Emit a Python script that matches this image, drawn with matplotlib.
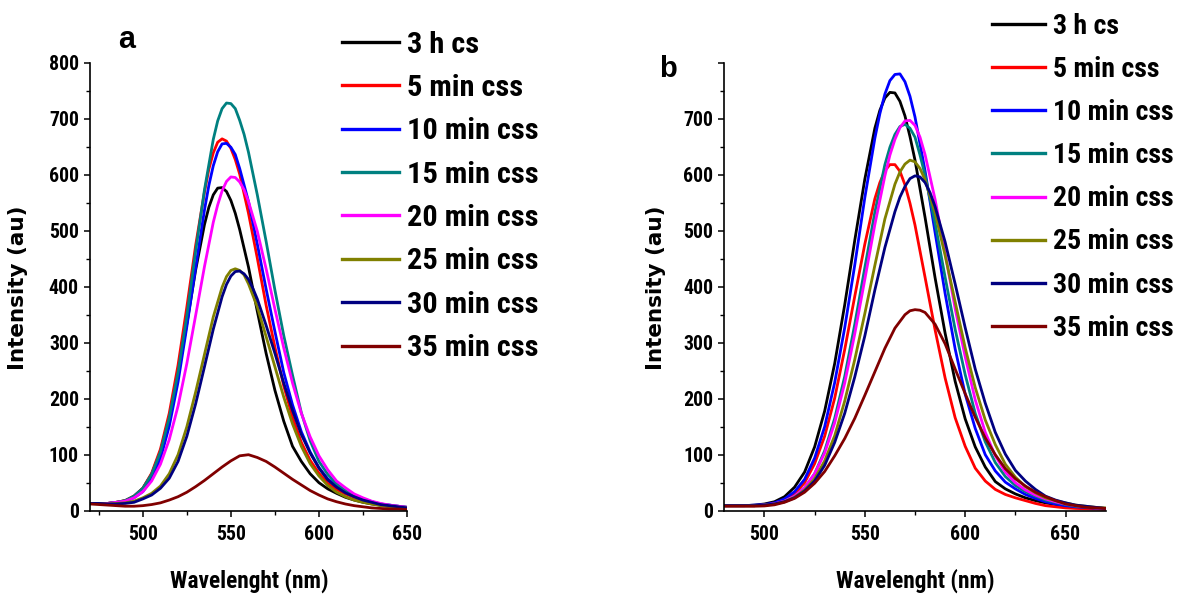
import matplotlib
matplotlib.use('Agg')
import matplotlib.pyplot as plt
from matplotlib import font_manager as fm
from matplotlib.font_manager import FontProperties
from matplotlib.ticker import MultipleLocator, FixedLocator, FixedFormatter
from matplotlib.lines import Line2D

# ---------------- data ----------------
labels = ['3 h cs', '5 min css', '10 min css', '15 min css', '20 min css',
          '25 min css', '30 min css', '35 min css']
colors = ['#000000', '#ff0000', '#0000ff', '#008080', '#ff00ff',
          '#808000', '#000080', '#800000']

# panel a: wavelength grid 470..650 nm (5 nm)
wl_a = list(range(470, 651, 5))
black_a = [13, 13, 13, 15, 18, 26, 40, 65, 106, 166,
           244, 334, 430, 511, 564, 577, 554, 502, 435, 356,
           281, 215, 160, 115, 88, 66, 50, 39, 31, 24,
           19, 15, 12, 10, 8, 7, 6]
red_a = [13, 13, 13, 15, 18, 26, 40, 67, 110, 174,
         260, 364, 474, 569, 639, 664, 647, 601, 531, 451,
         367, 292, 223, 167, 122, 90, 67, 49, 38, 30,
         24, 19, 15, 11, 9, 7, 5]
blue_a = [13, 13, 13, 14, 17, 23, 34, 56, 93, 151,
          230, 329, 434, 537, 616, 655, 649, 611, 552, 476,
          396, 320, 247, 189, 141, 105, 77, 57, 44, 35,
          26, 21, 16, 12, 10, 8, 6]
teal_a = [13, 13, 13, 15, 18, 26, 40, 65, 105, 166,
          247, 348, 464, 573, 663, 718, 727, 697, 640, 564,
          481, 394, 313, 242, 175, 125, 88, 65, 48, 36,
          27, 21, 16, 12, 10, 8, 6]
magenta_a = [13, 13, 13, 15, 17, 23, 34, 53, 83, 127,
             187, 263, 349, 436, 515, 571, 596, 587, 552, 499,
             432, 360, 291, 228, 174, 132, 98, 73, 53, 41,
             30, 23, 17, 13, 10, 8, 6]
olive_a = [13, 13, 12, 13, 14, 17, 23, 31, 44, 66,
           100, 150, 212, 279, 346, 399, 429, 429, 405, 364,
           311, 257, 203, 155, 115, 84, 62, 45, 33, 25,
           19, 15, 12, 9, 7, 6, 5]
navy_a = [13, 13, 12, 12, 13, 15, 21, 28, 40, 58,
          88, 133, 191, 257, 324, 382, 419, 428, 413, 378,
          331, 281, 228, 179, 136, 103, 76, 55, 42, 32,
          25, 19, 15, 11, 9, 7, 5]
darkred_a = [12, 11, 10, 9, 8, 8, 9, 11, 14, 19,
             25, 33, 43, 54, 66, 78, 89, 98, 100, 95,
             88, 78, 67, 56, 46, 36, 28, 21, 16, 12,
             9, 7, 5, 4, 3, 3, 2]

# extra readings around each peak of panel a (wavelength, intensity)
black_a_pk_x = [537.5, 542.5, 547.5, 552.5]
black_a_pk_y = [542, 576, 570, 531]
red_a_pk_x = [537.5, 542.5, 547.5, 552.5]
red_a_pk_y = [610, 658, 660, 627]
blue_a_pk_x = [537.5, 542.5, 547.5, 552.5]
blue_a_pk_y = [581, 641, 656, 636]
teal_a_pk_x = [542.5, 547.5, 552.5, 557.5]
teal_a_pk_y = [696, 728, 718, 672]
magenta_a_pk_x = [542.5, 547.5, 552.5, 557.5]
magenta_a_pk_y = [546, 588, 595, 573]
olive_a_pk_x = [547.5, 552.5, 557.5]
olive_a_pk_y = [418, 432, 421]
navy_a_pk_x = [547.5, 552.5, 557.5, 562.5]
navy_a_pk_y = [404, 427, 423, 397]
darkred_a_pk_x = []
darkred_a_pk_y = []

# panel b: wavelength grid 480..670 nm (5 nm)
wl_b = list(range(480, 671, 5))
black_b = [9, 9, 9, 10, 12, 16, 25, 42, 69, 114,
           178, 263, 368, 483, 592, 683, 737, 746, 705, 626,
           524, 416, 317, 231, 164, 114, 78, 52, 39, 30,
           23, 18, 14, 11, 8, 6, 5, 4, 3]
red_b = [9, 9, 9, 9, 10, 13, 19, 30, 50, 84,
         133, 201, 288, 383, 476, 557, 607, 618, 582, 510,
         417, 323, 237, 166, 115, 76, 53, 38, 29, 23,
         18, 13, 9, 7, 5, 4, 3.5, 3, 2.5]
blue_b = [9, 9, 9, 10, 11, 14, 21, 34, 56, 94,
          150, 229, 327, 439, 559, 665, 744, 779, 766, 703,
          607, 497, 388, 289, 208, 147, 100, 71, 51, 39,
          29, 22, 16, 12, 9, 7, 5.5, 4.5, 3.5]
teal_b = [9, 9, 9, 9, 10, 12, 17, 26, 41, 66,
          107, 165, 240, 333, 434, 533, 618, 672, 690, 667,
          599, 514, 417, 324, 243, 174, 123, 86, 61, 45,
          34, 26, 19, 15, 11, 8, 6.5, 5, 4]
magenta_b = [9, 9, 9, 9, 10, 12.5, 17, 26, 41, 66,
             103, 157, 228, 316, 413, 511, 598, 663, 696, 688,
             636, 556, 460, 361, 275, 198, 140, 98, 69, 50,
             37, 28, 21, 16, 12, 9, 7, 5, 4]
olive_b = [9, 9, 9, 9, 10, 12, 16, 24, 37, 57,
           89, 134, 196, 270, 352, 438, 521, 583, 619, 623,
           591, 532, 456, 373, 291, 220, 162, 118, 83, 60,
           43, 32, 23, 18, 14, 10, 8, 6, 5]
navy_b = [9, 9, 9, 9, 10, 12, 16, 23, 35, 53,
          81, 122, 174, 239, 312, 394, 470, 534, 579, 598,
          586, 543, 480, 405, 327, 253, 192, 140, 101, 72,
          53, 38, 26, 19, 14, 10, 8, 6, 4]
darkred_b = [8, 8, 8, 8, 8.5, 10.5, 15, 22, 33, 49,
             70, 98, 129, 165, 206, 248, 290, 326, 350, 359,
             354, 333, 298, 253, 209, 167, 130, 100, 75, 57,
             44, 33, 25, 18, 12, 9, 6, 5, 4]

# extra readings around each peak of panel b
black_b_pk_x = [557.5, 562.5, 567.5, 572.5]
black_b_pk_y = [715, 747, 731, 668]
red_b_pk_x = [557.5, 562.5, 567.5, 572.5]
red_b_pk_y = [586, 618, 606, 549]
blue_b_pk_x = [557.5, 562.5, 567.5, 572.5]
blue_b_pk_y = [709, 768, 780, 740]
teal_b_pk_x = [562.5, 567.5, 572.5, 577.5]
teal_b_pk_y = [649, 686, 683, 635]
magenta_b_pk_x = [562.5, 567.5, 572.5, 577.5]
magenta_b_pk_y = [635, 684, 697, 667]
olive_b_pk_x = [567.5, 572.5, 577.5]
olive_b_pk_y = [605, 626, 611]
navy_b_pk_x = [567.5, 572.5, 577.5, 582.5]
navy_b_pk_y = [560, 593, 596, 568]
darkred_b_pk_x = [572.5, 577.5]
darkred_b_pk_y = [357, 358]

series_a = [black_a, red_a, blue_a, teal_a, magenta_a, olive_a, navy_a, darkred_a]
peaks_a = [(black_a_pk_x, black_a_pk_y), (red_a_pk_x, red_a_pk_y),
           (blue_a_pk_x, blue_a_pk_y), (teal_a_pk_x, teal_a_pk_y),
           (magenta_a_pk_x, magenta_a_pk_y), (olive_a_pk_x, olive_a_pk_y),
           (navy_a_pk_x, navy_a_pk_y), (darkred_a_pk_x, darkred_a_pk_y)]
series_b = [black_b, red_b, blue_b, teal_b, magenta_b, olive_b, navy_b, darkred_b]
peaks_b = [(black_b_pk_x, black_b_pk_y), (red_b_pk_x, red_b_pk_y),
           (blue_b_pk_x, blue_b_pk_y), (teal_b_pk_x, teal_b_pk_y),
           (magenta_b_pk_x, magenta_b_pk_y), (olive_b_pk_x, olive_b_pk_y),
           (navy_b_pk_x, navy_b_pk_y), (darkred_b_pk_x, darkred_b_pk_y)]

x_major = [500, 550, 600, 650]
y_major = [0, 100, 200, 300, 400, 500, 600, 700, 800]
y_labels_a = ['0', '100', '200', '300', '400', '500', '600', '700', '800']
y_labels_b = ['0', '100', '200', '300', '400', '500', '600', '700', '']


# ---------------- fonts ----------------
def _is_bold(w):
    if isinstance(w, (int, float)):
        return w >= 600
    return str(w).lower() in ('bold', 'heavy', 'black', 'semibold', 'demibold', 'extra bold')


def pick_narrow_bold():
    best = None
    best_score = -1
    for f in fm.fontManager.ttflist:
        nm = f.name.lower()
        fn = f.fname.lower()
        st = str(f.stretch).lower()
        cond = ('narrow' in nm or 'condensed' in nm or 'narrow' in fn or 'condensed' in fn
                or 'condensed' in st)
        if not cond or not _is_bold(f.weight):
            continue
        if 'italic' in fn or 'oblique' in fn or str(f.style) != 'normal':
            continue
        score = 1
        if 'liberation' in nm or 'arial' in nm:
            score = 5
        elif 'roboto' in nm:
            score = 4
        elif 'open sans' in nm or 'noto' in nm:
            score = 3
        elif 'dejavu' in nm:
            score = 2
        if score > best_score:
            best, best_score = f, score
    if best is not None:
        return dict(fname=best.fname)
    return dict(family='Liberation Sans', weight='bold')


NARROW = pick_narrow_bold()

W, H = 1178, 598
fig = plt.figure(figsize=(W / 100, H / 100), dpi=100)
renderer = fig.canvas.get_renderer()


def fitted_fp(sample, target_px, max_size):
    fp = FontProperties(size=10, **NARROW)
    t = fig.text(0, 0, sample, fontproperties=fp)
    w = t.get_window_extent(renderer).width
    t.remove()
    size = min(max_size, 10 * target_px / w)
    return FontProperties(size=size, **NARROW)


tick_fp = fitted_fp('800', 30, 15.5)
leg_fp_a = fitted_fp('15 min css', 132, 24)
leg_fp_b = fitted_fp('15 min css', 121, 24)
xlab_fp = fitted_fp('Wavelenght (nm)', 158, 17.5)


def setup(ax, xlim, ylabels):
    ax.set_xlim(*xlim)
    ax.set_ylim(0, 800)
    for s in ('top', 'right'):
        ax.spines[s].set_visible(False)
    for s in ('left', 'bottom'):
        ax.spines[s].set_linewidth(1.2)
    ax.xaxis.set_major_locator(FixedLocator(x_major))
    ax.xaxis.set_minor_locator(MultipleLocator(25))
    ax.yaxis.set_major_locator(FixedLocator(y_major))
    ax.yaxis.set_major_formatter(FixedFormatter(ylabels))
    ax.yaxis.set_minor_locator(MultipleLocator(50))
    ax.tick_params(which='major', direction='out', length=4.5, width=1.1)
    ax.tick_params(which='minor', direction='out', length=2.6, width=1.0)
    ax.tick_params(axis='x', which='major', pad=5.5)
    ax.tick_params(axis='y', which='major', pad=3.5)
    for t in ax.get_xticklabels() + ax.get_yticklabels():
        t.set_fontproperties(tick_fp)


def draw(ax, wl, series, peaks):
    for ys, (px, py), c in zip(series, peaks, colors):
        pts = sorted(zip(list(wl) + list(px), list(ys) + list(py)))
        ax.plot([p[0] for p in pts], [p[1] for p in pts], color=c, lw=2.0,
                solid_joinstyle='round', solid_capstyle='round')


axA = fig.add_axes([90 / W, (H - 510.7) / H, 317 / W, 448 / H])
axB = fig.add_axes([724.3 / W, (H - 510.7) / H, 381.4 / W, 448 / H])

draw(axA, wl_a, series_a, peaks_a)
draw(axB, wl_b, series_b, peaks_b)

setup(axA, (470, 650), y_labels_a)
setup(axB, (480, 670), y_labels_b)

# legends: row pitch ~43 px in the reference
row_px = 43.3
handles = [Line2D([], [], color=c, lw=2.4) for c in colors]


def add_legend(fp, x0, y_first, hl_px, k, dy):
    fs_px = fp.get_size_in_points() * 100 / 72
    lab_sp = max(0.05, (row_px - k * fs_px) / fs_px)
    fig.legend(handles, labels, loc='upper left',
               bbox_to_anchor=(x0 / W, 1 - (y_first - row_px / 2 + dy) / H),
               bbox_transform=fig.transFigure, frameon=False, borderpad=0,
               borderaxespad=0, handlelength=hl_px / fs_px,
               handletextpad=8 / fs_px, labelspacing=lab_sp, prop=fp)


add_legend(leg_fp_a, 341.7, 43.3, 57, 0.92, 9)
add_legend(leg_fp_b, 991.7, 23.3, 53, 0.975, 11)

# panel letters
fig.text(126.5 / W, 1 - 48 / H, 'a', ha='center', va='baseline', fontsize=22,
         fontweight='bold', family='Liberation Sans')
fig.text(667.5 / W, 1 - 77 / H, 'b', ha='center', va='baseline', fontsize=21,
         fontweight='bold', family='Liberation Sans')

# axis labels
fig.text(249 / W, 1 - 588 / H, 'Wavelenght (nm)', ha='center', va='baseline',
         fontproperties=xlab_fp)
fig.text(915 / W, 1 - 588 / H, 'Wavelenght (nm)', ha='center', va='baseline',
         fontproperties=xlab_fp)
fig.text(24 / W, 1 - 288 / H, 'Intensity (au)', ha='center', va='baseline',
         rotation=90, rotation_mode='anchor', fontsize=15.5, fontweight='bold',
         family='DejaVu Sans')
fig.text(662 / W, 1 - 288 / H, 'Intensity (au)', ha='center', va='baseline',
         rotation=90, rotation_mode='anchor', fontsize=15.5, fontweight='bold',
         family='DejaVu Sans')

fig.savefig('out.png', dpi=100)
